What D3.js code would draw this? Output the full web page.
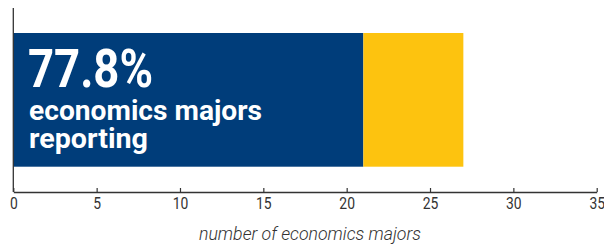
<!DOCTYPE html>
<html><head><meta charset="utf-8">
<script src="https://cdn.jsdelivr.net/npm/d3@7"></script>
<style>body{margin:0;background:#fff}svg{display:block}</style>
</head><body>
<script>
const categories = ["reporting", "not reporting"];
const values = [21, 6];
const colors = ["#003d7a", "#fdc30f"];
const tickValues = [0, 5, 10, 15, 20, 25, 30, 35];
const pctLabel = "77.8%";
const labelLines = ["economics majors", "reporting"];
const axisTitle = "number of economics majors";

const W = 604, H = 248;
const svg = d3.select("body").append("svg").attr("width", W).attr("height", H);
const x = d3.scaleLinear().domain([0, 35]).range([13.3, 596.7]);

// stacked segments
let acc = 0;
const segs = values.map((v, i) => { const s = {cat: categories[i], x0: acc, x1: acc + v, c: colors[i]}; acc += v; return s; });
svg.selectAll("rect.seg").data(segs).enter().append("rect")
  .attr("x", d => x(d.x0)).attr("width", d => x(d.x1) - x(d.x0))
  .attr("y", 33).attr("height", 133.7)
  .attr("fill", d => d.c);

// y axis line
svg.append("line").attr("x1", 13.3).attr("x2", 13.3).attr("y1", 8).attr("y2", 192)
  .attr("stroke", "#333").attr("stroke-width", 1.3);

// x axis
const ax = svg.append("g").attr("transform", "translate(0,192)")
  .call(d3.axisBottom(x).tickValues(tickValues).tickSizeInner(-4).tickSizeOuter(0).tickPadding(3));
ax.select(".domain").attr("stroke", "#333").attr("stroke-width", 1.3);
ax.selectAll(".tick line").attr("stroke", "#333").attr("stroke-width", 1.2);
ax.selectAll(".tick text").attr("y", 16.5).attr("dy", 0)
  .attr("font-family", "Roboto, sans-serif").attr("font-size", 16).attr("fill", "#333")
  .each(function(){ const t = d3.select(this); const s = t.text(); t.attr("textLength", s.length * 7.8).attr("lengthAdjust", "spacingAndGlyphs"); });

// labels inside bar
svg.append("text").attr("x", 28).attr("y", 86.7).text(pctLabel)
  .attr("font-family", "Roboto, sans-serif").attr("font-weight", 700).attr("font-size", 53)
  .attr("fill", "#fff").attr("textLength", 125).attr("lengthAdjust", "spacingAndGlyphs");
const lineY = [120, 148];
const lineW = [233, 119];
labelLines.forEach((s, i) => {
  svg.append("text").attr("x", 29).attr("y", lineY[i]).text(s)
    .attr("font-family", "Roboto, sans-serif").attr("font-weight", 700).attr("font-size", 28.5)
    .attr("fill", "#fff").attr("textLength", lineW[i]).attr("lengthAdjust", "spacingAndGlyphs");
});

// axis title
svg.append("text").attr("x", 310).attr("y", 240).attr("text-anchor", "middle").text(axisTitle)
  .attr("font-family", "Roboto, sans-serif").attr("font-style", "italic").attr("font-weight", 300).attr("font-size", 18)
  .attr("fill", "#333").attr("textLength", 222).attr("lengthAdjust", "spacingAndGlyphs");
</script>
</body></html>
